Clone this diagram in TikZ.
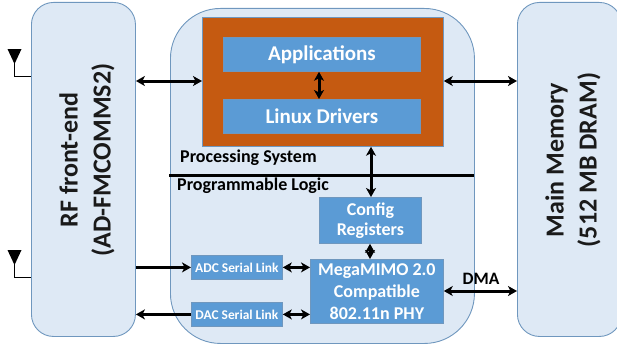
\documentclass[tikz,border=0pt]{standalone}
\usepackage{fontspec}
\setmainfont{Carlito}
\usetikzlibrary{arrows.meta,calc}
\definecolor{panel}{HTML}{DEE9F5}
\definecolor{edgeblue}{HTML}{6F97BE}
\definecolor{fillblue}{HTML}{5B9BD5}
\definecolor{fillorange}{HTML}{C55A11}
\definecolor{darktext}{HTML}{1A1A1A}
\tikzset{
  panelbox/.style={draw=edgeblue,fill=panel,line width=0.9pt,rounded corners=22pt,inner sep=0pt,anchor=north west},
  bluebox/.style={draw=edgeblue,fill=fillblue,line width=0.8pt,inner sep=0pt,anchor=north west,text=white,font=\bfseries,align=center},
  dbl/.style={draw=black,line width=3pt,>={Stealth[length=9pt,width=10pt,inset=2.5pt]},<->},
  sgl/.style={draw=black,line width=3pt,>={Stealth[length=9pt,width=10pt,inset=2.5pt]},->},
  ant/.style={line width=0.8pt,black},
  sidetext/.style={font=\fontsize{26}{33}\selectfont\bfseries,text=darktext,align=center,rotate=90},
  plabel/.style={font=\fontsize{18}{20}\selectfont\bfseries,text=black,anchor=west,inner sep=0pt},
}
\begin{document}
\begin{tikzpicture}[x=1pt,y=-1pt]
\useasboundingbox (0,0) rectangle (617,345);
% panels
\node[panelbox,minimum width=104pt,minimum height=334pt] (rf) at (31,2) {};
\node[panelbox,minimum width=104pt,minimum height=334pt] (mem) at (517,2) {};
\node[panelbox,rounded corners=50pt,minimum width=304pt,minimum height=335pt] (soc) at (170,8) {};
\node[sidetext] (rflabel) at (87,160) {RF front-end\\(AD-FMCOMMS2)};
\node[sidetext] (memlabel) at (573,160) {Main Memory\\(512 MB DRAM)};
% processing system
\node[bluebox,draw=edgeblue,fill=fillorange,minimum width=241pt,minimum height=129pt] (ps) at (202,17) {};
\node[bluebox,minimum width=197pt,minimum height=34pt,font=\fontsize{21}{23}\selectfont\bfseries] (apps) at (223,37) {\raisebox{-1pt}{Applications}};
\node[bluebox,minimum width=197pt,minimum height=34pt,font=\fontsize{21}{23}\selectfont\bfseries] (linux) at (223,99) {\raisebox{-1pt}{Linux Drivers}};
\node[plabel] (pslabel) at (180,158) {Processing System};
\node[plabel] (pllabel) at (177,186) {Programmable Logic};
% divider
\coordinate (divl) at (169,175.5);
\coordinate (divr) at (474,175.5);
\draw[line width=3pt,black] (divl) -- (divr);
% logic blocks
\node[bluebox,minimum width=102pt,minimum height=46pt,font=\fontsize{18}{20}\selectfont\bfseries] (cfg) at (319,197) {\raisebox{-2pt}{Config}\\\raisebox{-2pt}{Registers}};
\node[bluebox,minimum width=133pt,minimum height=64pt,font=\fontsize{18}{22}\selectfont\bfseries] (phy) at (310,259) {MegaMIMO 2.0\\Compatible\\802.11n PHY};
\node[bluebox,minimum width=91pt,minimum height=24pt,font=\fontsize{13.4}{15}\selectfont\bfseries] (adc) at (191,255) {ADC Serial Link};
\node[bluebox,minimum width=91pt,minimum height=24pt,font=\fontsize{13.4}{15}\selectfont\bfseries] (dac) at (191,302) {DAC Serial Link};
\node[font=\fontsize{17.4}{19}\selectfont\bfseries,text=black,inner sep=0pt] (dma) at (481,279) {DMA};
% connectors
\coordinate (ya) at (0,81);
\coordinate (yd) at (0,291);
\coordinate (xv) at (371,0);
\coordinate (xc) at (370,0);
\coordinate (xa) at (319,0);
\draw[dbl] (rf.east |- ya) -- (ps.west |- ya);
\draw[dbl] (ps.east |- ya) -- (mem.west |- ya);
\draw[dbl] (apps.south -| xa) -- (linux.north -| xa);
\draw[dbl] (ps.south -| xv) -- (cfg.north -| xv);
\draw[dbl] (cfg.south -| xc) -- (phy.north -| xc);
\draw[sgl] (rf.east |- adc) -- (adc.west);
\draw[sgl] (dac.west) -- (rf.east |- dac);
\draw[dbl] (adc.east) -- (phy.west |- adc);
\draw[dbl] (dac.east) -- (phy.west |- dac);
\draw[dbl] (phy.east |- yd) -- (mem.west |- yd);
% antennas
\coordinate (a1) at (14.5,49);
\coordinate (a2) at (14.5,250);
\fill[black] (a1) ++(-7,0) -- ++(14,0) -- ++(-7,15) -- cycle;
\fill[black] (a2) ++(-7,0) -- ++(14,0) -- ++(-7,15) -- cycle;
\draw[ant] (a1) ++(0,14) |- (rf.west |- 0,76.5);
\draw[ant] (a2) ++(0,14) |- (rf.west |- 0,277.5);
\end{tikzpicture}
\end{document}
